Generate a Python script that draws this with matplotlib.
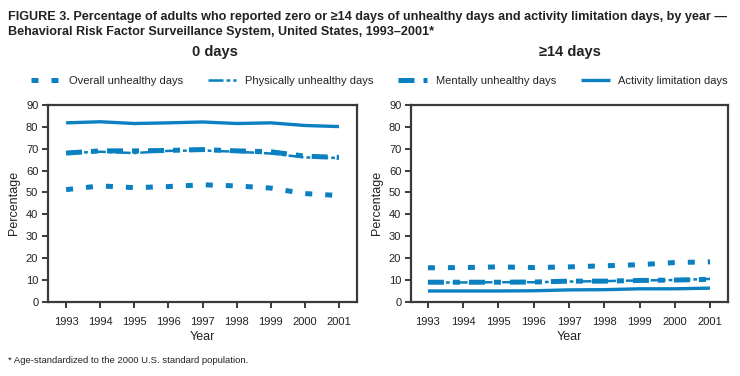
import matplotlib.pyplot as plt

plt.rcParams['font.family'] = ['Liberation Sans', 'DejaVu Sans']

years = [1993, 1994, 1995, 1996, 1997, 1998, 1999, 2000, 2001]

# 0 days
zero_overall = [51.3, 53.0, 52.2, 52.7, 53.5, 53.0, 52.0, 49.5, 48.6]
zero_physical = [68.0, 68.6, 68.0, 69.0, 69.2, 68.6, 67.8, 66.0, 65.8]
zero_mental = [68.0, 69.0, 69.0, 69.2, 69.6, 69.0, 68.6, 66.6, 66.0]
zero_activity = [81.8, 82.3, 81.5, 81.8, 82.2, 81.5, 81.8, 80.6, 80.1]

# >=14 days
high_overall = [15.6, 15.7, 16.0, 15.7, 16.0, 16.5, 17.0, 18.0, 18.3]
high_physical = [8.8, 8.9, 9.0, 9.0, 9.3, 9.5, 9.8, 10.0, 10.5]
high_mental = [9.0, 9.0, 9.0, 9.1, 9.5, 9.5, 9.8, 10.0, 10.3]
high_activity = [5.0, 5.0, 5.0, 5.1, 5.5, 5.6, 6.0, 6.0, 6.3]

blue = '#0a80c0'
dark = '#3a3a3a'

series_styles = [
    ('Overall unhealthy days', dict(lw=3.6, dashes=(1.4, 2.6))),
    ('Physically unhealthy days', dict(lw=1.8, dashes=(6, 1.2, 1.5, 1.2))),
    ('Mentally unhealthy days', dict(lw=3.6, dashes=(3.2, 1.8, 1.4, 1.8))),
    ('Activity limitation days', dict(lw=2.4, linestyle='-')),
]

fig = plt.figure(figsize=(7.4, 3.76), dpi=100)
ax1 = fig.add_axes([0.0649, 0.197, 0.4176, 0.524])
ax2 = fig.add_axes([0.5554, 0.197, 0.4284, 0.524])

panels = [
    (ax1, [zero_overall, zero_physical, zero_mental, zero_activity], (1992.47, 2001.53)),
    (ax2, [high_overall, high_physical, high_mental, high_activity], (1992.52, 2001.51)),
]

handles = []
for ax, data, xlim in panels:
    handles = []
    for (label, style), vals in zip(series_styles, data):
        h, = ax.plot(years, vals, color=blue, label=label,
                     solid_capstyle='butt', dash_capstyle='butt', **style)
        handles.append(h)
    ax.set_xlim(*xlim)
    ax.set_ylim(0, 90)
    ax.set_yticks(range(0, 91, 10))
    ax.set_xticks(years)
    for s in ax.spines.values():
        s.set_color(dark)
        s.set_linewidth(1.6)
    ax.tick_params(direction='out', length=4, width=1.4, color=dark,
                   labelsize=8, labelcolor='#222222', pad=3)
    ax.tick_params(axis='x', pad=7)
    ax.set_xlabel('Year', fontsize=9, color='#222222', labelpad=3)
    ax.set_ylabel('Percentage', fontsize=9, color='#222222', labelpad=4)

fig.text(0.011, 0.972, 'FIGURE 3. Percentage of adults who reported zero or \u226514 days of unhealthy days and activity limitation days, by year \u2014',
         fontsize=9.1, fontweight='bold', color='#222222', va='top')
fig.text(0.011, 0.932, 'Behavioral Risk Factor Surveillance System, United States, 1993\u20132001*',
         fontsize=9.1, fontweight='bold', color='#222222', va='top')
fig.text(0.29, 0.852, '0 days', fontsize=10.5, fontweight='bold', color='#222222', ha='center')
fig.text(0.77, 0.852, '\u226514 days', fontsize=10.5, fontweight='bold', color='#222222', ha='center')
fig.text(0.011, 0.035, '* Age-standardized to the 2000 U.S. standard population.',
         fontsize=6.8, color='#222222')

fig.legend(handles=handles, loc='center', bbox_to_anchor=(0.513, 0.785), ncol=4,
           frameon=False, fontsize=8, handlelength=2.6, handletextpad=0.8,
           columnspacing=2.2, labelcolor='#222222')

fig.savefig('out.png', dpi=100)
